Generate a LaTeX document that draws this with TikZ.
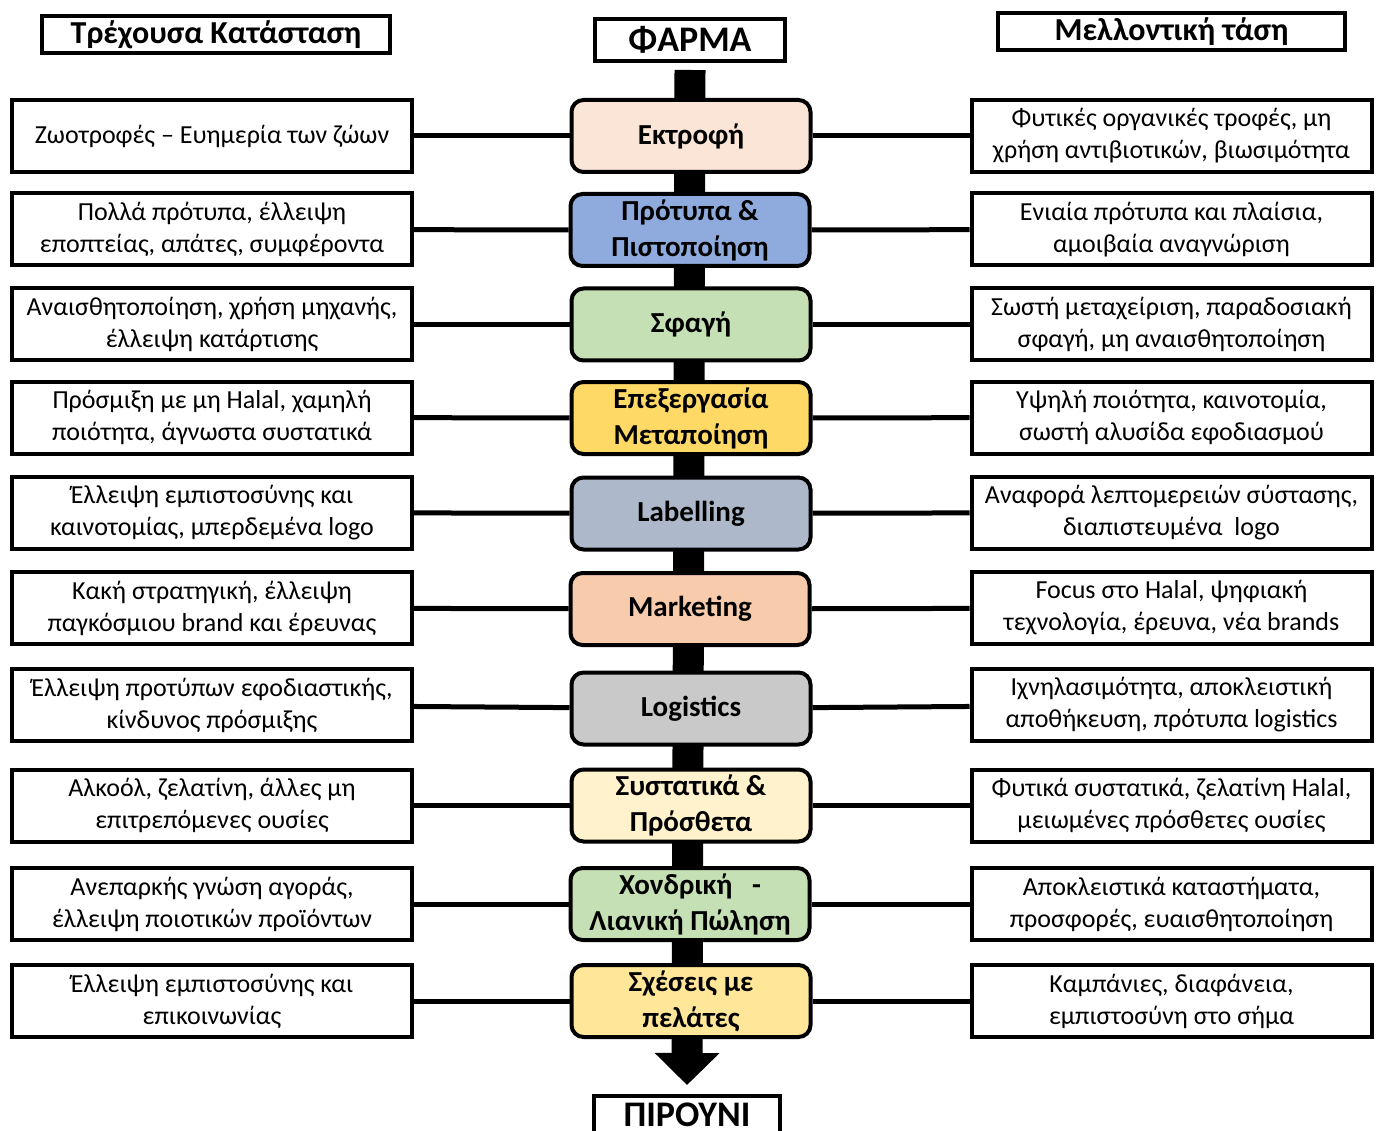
\documentclass[tikz,border=0pt]{standalone}
\usepackage{fontspec}
\setmainfont{Carlito}
\usetikzlibrary{arrows.meta,backgrounds}

\definecolor{ektrofi}{HTML}{FBE5D6}
\definecolor{protypa}{HTML}{8FAADC}
\definecolor{sfagi}{HTML}{C5E0B4}
\definecolor{epexerg}{HTML}{FFD966}
\definecolor{labelling}{HTML}{ADB9CA}
\definecolor{marketing}{HTML}{F8CBAD}
\definecolor{logistics}{HTML}{C9C9C9}
\definecolor{systatika}{HTML}{FFF2CC}
\definecolor{polisi}{HTML}{C5E0B4}
\definecolor{pelates}{HTML}{FFE699}

\begin{document}
\begin{tikzpicture}[x=1pt,y=-1pt,
    side/.style={draw,line width=4pt,minimum width=400pt,minimum height=72pt,
      align=center,inner sep=2pt,font=\fontsize{26}{32}\selectfont},
    stage/.style={draw,line width=4pt,rounded corners=12pt,minimum width=239pt,
      minimum height=72pt,align=center,inner sep=2pt,font=\bfseries\fontsize{29}{36}\selectfont},
    head/.style={draw,line width=4pt,inner sep=0pt,font=\bfseries\fontsize{32}{38}\selectfont},
    ends/.style={draw,line width=4pt,inner sep=0pt,minimum width=190pt,minimum height=42pt,
      font=\bfseries\fontsize{36}{42}\selectfont},
    link/.style={line width=5pt}]
  \clip (0,0) rectangle (1381,1131);

  % titles
  \node[head,minimum width=348pt,minimum height=37pt] (cur) at (216,34.5) {Τρέχουσα Κατάσταση};
  \node[head,minimum width=347pt,minimum height=37pt] (fut) at (1171.5,31.5) {Μελλοντική τάση};
  \node[ends] (farma) at (690,40) {ΦΑΡΜΑ};
  \node[ends,minimum width=186pt,minimum height=37pt,anchor=north] (pirouni) at (687,1094) {ΠΙΡΟΥΝΙ};

  % row 1
  \node[side] (c1) at (212,136) {Ζωοτροφές – Ευημερία των ζώων};
  \node[stage,fill=ektrofi] (s1) at (691,136) {Εκτροφή};
  \node[side] (f1) at (1171.5,136) {Φυτικές οργανικές τροφές, μη\\χρήση αντιβιοτικών, βιωσιμότητα};

  % row 2
  \node[side] (c2) at (212,229.5) {Πολλά πρότυπα, έλλειψη\\εποπτείας, απάτες, συμφέροντα};
  \node[stage,fill=protypa] (s2) at (690,230) {Πρότυπα \&\\Πιστοποίηση};
  \node[side] (f2) at (1171.5,229.5) {Ενιαία πρότυπα και πλαίσια,\\αμοιβαία αναγνώριση};

  % row 3
  \node[side] (c3) at (212,324.5) {Αναισθητοποίηση, χρήση μηχανής,\\έλλειψη κατάρτισης};
  \node[stage,fill=sfagi] (s3) at (691,324.5) {Σφαγή};
  \node[side] (f3) at (1171.5,324.5) {Σωστή μεταχείριση, παραδοσιακή\\σφαγή, μη αναισθητοποίηση};

  % row 4
  \node[side] (c4) at (212,417.5) {Πρόσμιξη με μη Halal, χαμηλή\\ποιότητα, άγνωστα συστατικά};
  \node[stage,fill=epexerg] (s4) at (691,418) {Επεξεργασία\\Μεταποίηση};
  \node[side] (f4) at (1171.5,417.5) {Υψηλή ποιότητα, καινοτομία,\\σωστή αλυσίδα εφοδιασμού};

  % row 5
  \node[side] (c5) at (212,512.5) {Έλλειψη εμπιστοσύνης και\\καινοτομίας, μπερδεμένα logo};
  \node[stage,fill=labelling] (s5) at (691,513.5) {Labelling};
  \node[side] (f5) at (1171.5,512.5) {Αναφορά λεπτομερειών σύστασης,\\διαπιστευμένα\ \ logo};

  % row 6
  \node[side] (c6) at (212,608) {Κακή στρατηγική, έλλειψη\\παγκόσμιου brand και έρευνας};
  \node[stage,fill=marketing] (s6) at (690,609) {Marketing};
  \node[side] (f6) at (1171.5,608) {Focus στο Halal, ψηφιακή\\τεχνολογία, έρευνα, νέα brands};

  % row 7
  \node[side] (c7) at (212,705) {Έλλειψη προτύπων εφοδιαστικής,\\κίνδυνος πρόσμιξης};
  \node[stage,fill=logistics] (s7) at (691,708.5) {Logistics};
  \node[side] (f7) at (1171.5,705) {Ιχνηλασιμότητα, αποκλειστική\\αποθήκευση, πρότυπα logistics};

  % row 8
  \node[side] (c8) at (212,805.5) {Αλκοόλ, ζελατίνη, άλλες μη\\επιτρεπόμενες ουσίες};
  \node[stage,fill=systatika] (s8) at (691,805.5) {Συστατικά \&\\Πρόσθετα};
  \node[side] (f8) at (1171.5,805.5) {Φυτικά συστατικά, ζελατίνη Halal,\\μειωμένες πρόσθετες ουσίες};

  % row 9
  \node[side] (c9) at (212,904) {Ανεπαρκής γνώση αγοράς,\\έλλειψη ποιοτικών προϊόντων};
  \node[stage,fill=polisi] (s9) at (690,904) {Χονδρική\ \ \ -\\Λιανική Πώληση};
  \node[side] (f9) at (1171.5,904) {Αποκλειστικά καταστήματα,\\προσφορές, ευαισθητοποίηση};

  % row 10
  \node[side] (c10) at (212,1001) {Έλλειψη εμπιστοσύνης και\\επικοινωνίας};
  \node[stage,fill=pelates] (s10) at (691,1001) {Σχέσεις με\\πελάτες};
  \node[side] (f10) at (1171.5,1001) {Καμπάνιες, διαφάνεια,\\εμπιστοσύνη στο σήμα};

  \foreach \i in {1,...,10}
    \draw[link] (c\i) -- (s\i) -- (f\i);

  % main arrow behind the stages
  \begin{scope}[on background layer]
    \draw[line width=31pt,-{Triangle[width=63pt,length=32pt]}]
      ([yshift=-7pt]farma.south) -- ([yshift=9pt]pirouni.north);
  \end{scope}
\end{tikzpicture}
\end{document}
